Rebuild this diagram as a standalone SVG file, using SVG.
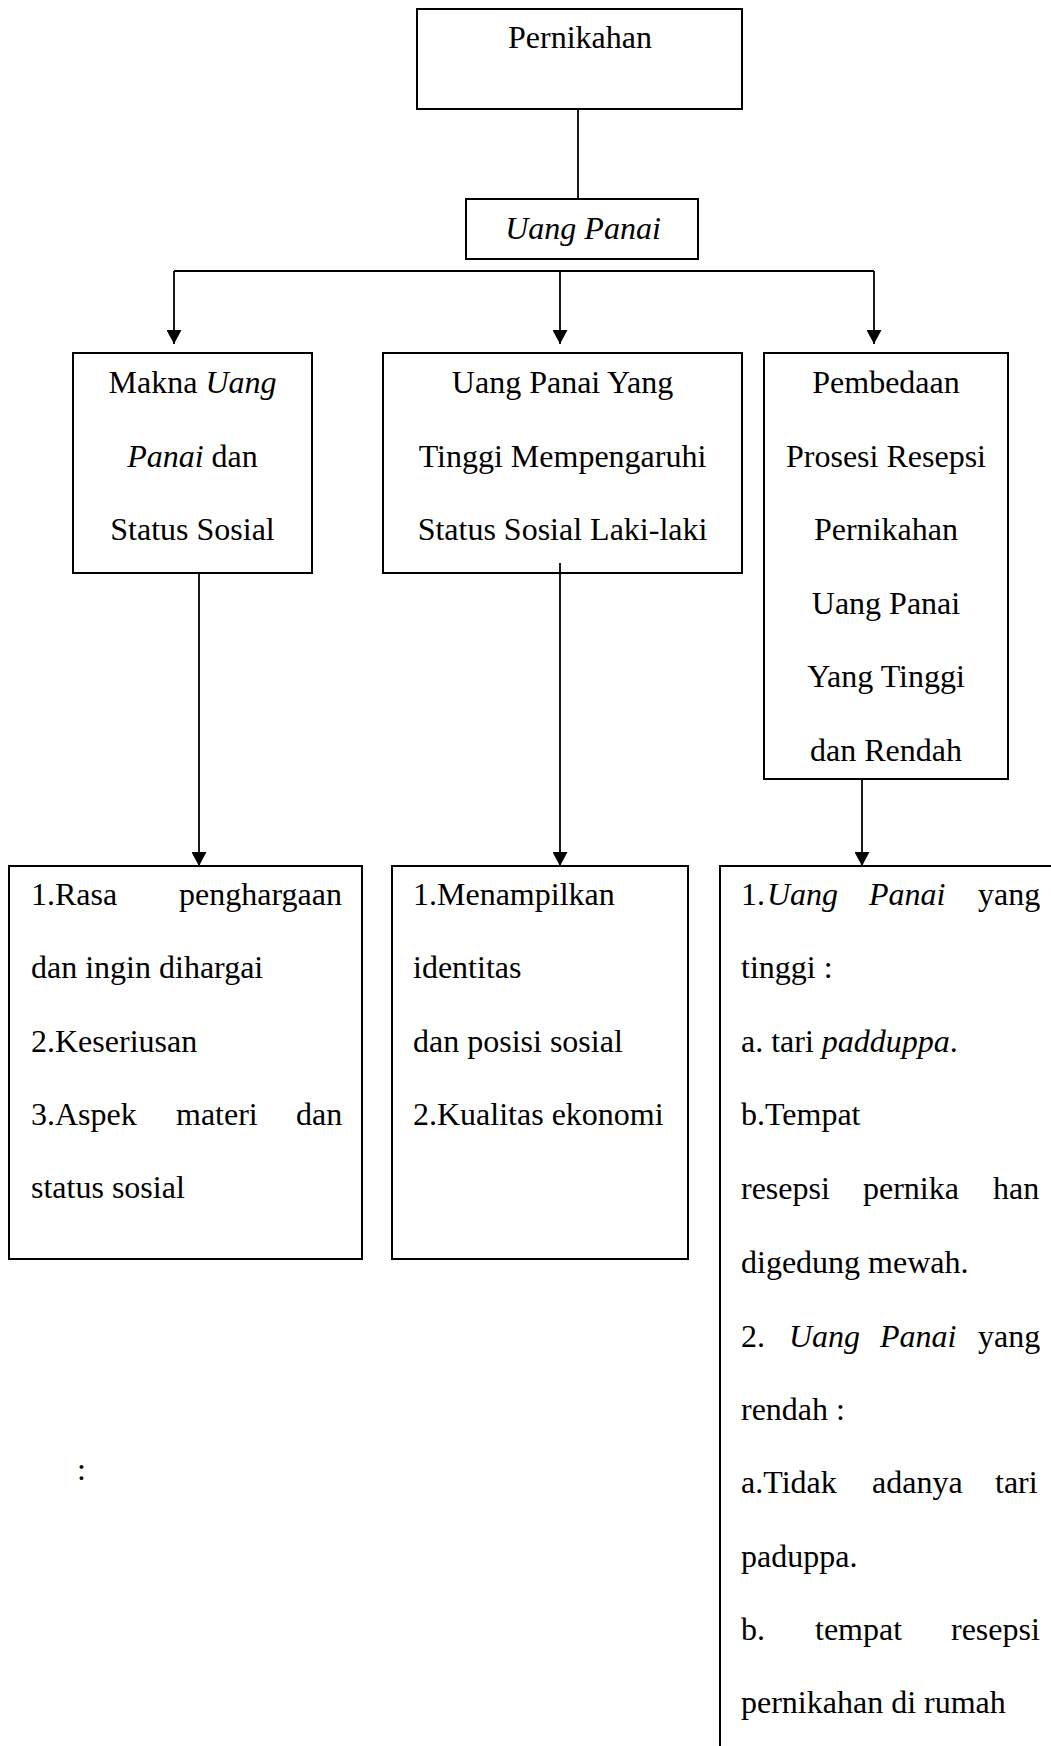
<svg xmlns="http://www.w3.org/2000/svg" width="1051" height="1746" viewBox="0 0 1051 1746">
<style>
.box{fill:#fff;stroke:#000;stroke-width:2}
.ln{fill:none;stroke:#000;stroke-width:1.8}
text{font-family:"Liberation Serif","Times New Roman",serif;font-size:32px;fill:#000}
.c{text-anchor:middle}
.i{font-style:italic}
</style>
<defs>
<marker id="arr" viewBox="0 0 14 15" refX="14" refY="7.5" markerWidth="14" markerHeight="15" markerUnits="userSpaceOnUse" orient="auto">
<path d="M0,0 L14,7.5 L0,15 z" fill="#000"/>
</marker>
</defs>
<rect width="1051" height="1746" fill="#fff"/>
<g id="pernikahan">
<rect class="box" x="417" y="9" width="325" height="100"/>
<text class="c" x="580" y="48">Pernikahan</text>
</g>
<g id="uang-panai">
<rect class="box" x="466" y="199" width="232" height="60"/>
<text class="c i" x="583" y="239">Uang Panai</text>
</g>
<g id="makna">
<rect class="box" x="73" y="353" width="239" height="220"/>
<text class="c" x="192.5" y="393">Makna <tspan class="i">Uang</tspan></text>
<text class="c" x="192.5" y="467"><tspan class="i">Panai</tspan> dan</text>
<text class="c" x="192.5" y="540">Status Sosial</text>
</g>
<g id="tinggi">
<rect class="box" x="383" y="353" width="359" height="220"/>
<text class="c" x="562.5" y="393">Uang Panai Yang</text>
<text class="c" x="562.5" y="467">Tinggi Mempengaruhi</text>
<text class="c" x="562.5" y="540">Status Sosial Laki-laki</text>
</g>
<g id="pembedaan">
<rect class="box" x="764" y="353" width="244" height="426"/>
<text class="c" x="886" y="393">Pembedaan</text>
<text class="c" x="886" y="467">Prosesi Resepsi</text>
<text class="c" x="886" y="540">Pernikahan</text>
<text class="c" x="886" y="614">Uang Panai</text>
<text class="c" x="886" y="687">Yang Tinggi</text>
<text class="c" x="886" y="761">dan Rendah</text>
</g>
<g id="makna-list">
<rect class="box" x="9" y="866" width="353" height="393"/>
<text x="31" y="905">1.Rasa</text>
<text x="179" y="905">penghargaan</text>
<text x="31" y="978">dan ingin dihargai</text>
<text x="31" y="1052">2.Keseriusan</text>
<text x="31" y="1125">3.Aspek</text>
<text x="176" y="1125">materi</text>
<text x="296" y="1125">dan</text>
<text x="31" y="1198">status sosial</text>
</g>
<g id="tinggi-list">
<rect class="box" x="392" y="866" width="296" height="393"/>
<text x="413" y="905">1.Menampilkan</text>
<text x="413" y="978">identitas</text>
<text x="413" y="1052">dan posisi sosial</text>
<text x="413" y="1125">2.Kualitas ekonomi</text>
</g>
<g id="pembedaan-list">
<rect class="box" x="720" y="866" width="400" height="950"/>
<text x="741" y="905">1.</text>
<text class="i" x="767" y="905">Uang</text>
<text class="i" x="869" y="905">Panai</text>
<text x="978" y="905">yang</text>
<text x="741" y="978">tinggi :</text>
<text x="741" y="1052">a. tari <tspan class="i">padduppa</tspan>.</text>
<text x="741" y="1125">b.Tempat</text>
<text x="741" y="1199">resepsi</text>
<text x="863" y="1199">pernika</text>
<text x="993" y="1199">han</text>
<text x="741" y="1273">digedung mewah.</text>
<text x="741" y="1347">2.</text>
<text class="i" x="789" y="1347">Uang</text>
<text class="i" x="880" y="1347">Panai</text>
<text x="978" y="1347">yang</text>
<text x="741" y="1420">rendah :</text>
<text x="741" y="1493">a.Tidak</text>
<text x="872" y="1493">adanya</text>
<text x="995" y="1493">tari</text>
<text x="741" y="1567">paduppa.</text>
<text x="741" y="1640">b.</text>
<text x="815" y="1640">tempat</text>
<text x="951" y="1640">resepsi</text>
<text x="741" y="1713">pernikahan di rumah</text>
</g>
<text x="77" y="1480">:</text>
<g id="connectors">
<line class="ln" x1="578" y1="109" x2="578" y2="199"/>
<line class="ln" x1="174" y1="271" x2="874" y2="271"/>
<line class="ln" x1="174" y1="271" x2="174" y2="344" marker-end="url(#arr)"/>
<line class="ln" x1="560" y1="271" x2="560" y2="344" marker-end="url(#arr)"/>
<line class="ln" x1="874" y1="271" x2="874" y2="344" marker-end="url(#arr)"/>
<line class="ln" x1="199" y1="573" x2="199" y2="866" marker-end="url(#arr)"/>
<line class="ln" x1="560" y1="563" x2="560" y2="866" marker-end="url(#arr)"/>
<line class="ln" x1="862" y1="779" x2="862" y2="866" marker-end="url(#arr)"/>
</g>
</svg>
